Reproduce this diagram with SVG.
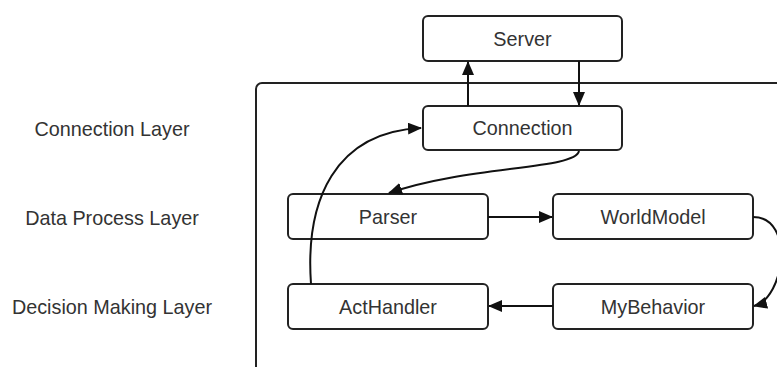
<svg xmlns="http://www.w3.org/2000/svg" width="777" height="367" viewBox="0 0 777 367">
<style>
.box{fill:#fff;stroke:#222;stroke-width:2}
.t{font-family:"Liberation Sans",Arial,sans-serif;font-size:19.8px;fill:#333;text-anchor:middle;dominant-baseline:central}
.c{fill:none;stroke:#111;stroke-width:2}
</style>
<defs>
<marker id="ah" viewBox="0 0 14 12" refX="13" refY="6" markerWidth="14" markerHeight="12" markerUnits="userSpaceOnUse" orient="auto">
<path d="M0,0 L14,6 L0,12 Z" fill="#111"/>
</marker>
</defs>
<rect id="frame" x="256" y="83" width="560" height="320" rx="6" fill="none" stroke="#222" stroke-width="2"/>
<g id="labels">
<text class="t" x="112" y="129">Connection Layer</text>
<text class="t" x="112" y="218">Data Process Layer</text>
<text class="t" x="112" y="307">Decision Making Layer</text>
</g>
<g id="server"><rect class="box" x="423" y="16" width="199" height="45" rx="5"/><text class="t" x="522.5" y="38.5">Server</text></g>
<g id="connection"><rect class="box" x="423" y="106" width="199" height="44" rx="5"/><text class="t" x="522.5" y="128">Connection</text></g>
<g id="parser"><rect class="box" x="288" y="194" width="200" height="45" rx="5"/><text class="t" x="388" y="216.5">Parser</text></g>
<g id="worldmodel"><rect class="box" x="553" y="194" width="200" height="45" rx="5"/><text class="t" x="653" y="216.5">WorldModel</text></g>
<g id="acthandler"><rect class="box" x="288" y="284" width="200" height="45" rx="5"/><text class="t" x="388" y="306.5">ActHandler</text></g>
<g id="mybehavior"><rect class="box" x="553" y="284" width="200" height="45" rx="5"/><text class="t" x="653" y="306.5">MyBehavior</text></g>
<g id="connectors">
<path class="c" d="M468,106 L468,62" marker-end="url(#ah)"/>
<path class="c" d="M579,61 L579,105" marker-end="url(#ah)"/>
<path class="c" d="M579,151 C575,170 470,165 389,193" marker-end="url(#ah)"/>
<path class="c" d="M488,217 L552,217" marker-end="url(#ah)"/>
<path class="c" d="M753,217 C795,217 785,298 754,306" marker-end="url(#ah)"/>
<path class="c" d="M553,306 L489,306" marker-end="url(#ah)"/>
<path class="c" d="M311,284 C305,200 335,132 421,128" marker-end="url(#ah)"/>
</g>
</svg>
